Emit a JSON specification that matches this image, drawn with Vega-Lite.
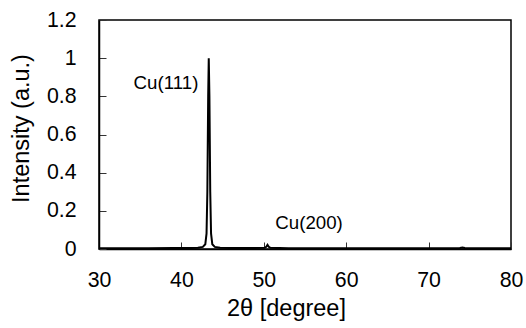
{
  "$schema": "https://vega.github.io/schema/vega-lite/v6.json",
  "width": 412,
  "height": 229,
  "autosize": {"type": "none"},
  "padding": {"left": 99, "top": 20, "right": 15, "bottom": 79},
  "background": "white",
  "config": {
    "font": "Liberation Sans",
    "view": {"stroke": "black", "strokeWidth": 1.5},
    "axis": {
      "grid": false,
      "domainColor": "black",
      "domainWidth": 1.5,
      "tickColor": "#333",
      "tickWidth": 1,
      "tickSize": -7,
      "labelFont": "Liberation Sans",
      "labelFontSize": 21.3,
      "labelColor": "black",
      "labelFlush": false,
      "labelOverlap": false,
      "titleFont": "Liberation Sans",
      "titleFontSize": 23.5,
      "titleFontWeight": "normal",
      "titleColor": "black"
    }
  },
  "encoding": {
    "x": {
      "field": "x", "type": "quantitative",
      "scale": {"domain": [30, 80], "nice": false, "zero": false},
      "axis": {"values": [30, 40, 50, 60, 70, 80], "title": "2θ [degree]", "labelPadding": 27, "labelFlush": false, "labelOverlap": false, "titlePadding": 6, "titleX": 187, "titleAnchor": "start", "titleAlign": "center"}
    },
    "y": {
      "field": "y", "type": "quantitative",
      "scale": {"domain": [0, 1.2], "nice": false},
      "axis": {"values": [0, 0.2, 0.4, 0.6, 0.8, 1, 1.2], "labelExpr": "format(datum.value, '~g')", "labelOverlap": false, "labelBound": false, "title": "Intensity (a.u.)", "labelPadding": 30, "titlePadding": 13, "titleY": 108, "titleAnchor": "start", "titleAlign": "center"}
    }
  },
  "layer": [
    {
      "data": {
        "values": [
          {"x": 30, "y": 0.004}, {"x": 33, "y": 0.004}, {"x": 36, "y": 0.004},
          {"x": 39, "y": 0.005}, {"x": 41, "y": 0.005}, {"x": 42, "y": 0.007},
          {"x": 42.6, "y": 0.011}, {"x": 42.9, "y": 0.025}, {"x": 43.05, "y": 0.08},
          {"x": 43.15, "y": 0.3}, {"x": 43.25, "y": 0.8}, {"x": 43.32, "y": 1.0},
          {"x": 43.4, "y": 0.8}, {"x": 43.5, "y": 0.3}, {"x": 43.6, "y": 0.08},
          {"x": 43.75, "y": 0.025}, {"x": 44.05, "y": 0.011}, {"x": 44.7, "y": 0.007},
          {"x": 46, "y": 0.005}, {"x": 48, "y": 0.005}, {"x": 50.1, "y": 0.006},
          {"x": 50.3, "y": 0.012}, {"x": 50.45, "y": 0.022}, {"x": 50.6, "y": 0.012},
          {"x": 50.8, "y": 0.006}, {"x": 53, "y": 0.004}, {"x": 56, "y": 0.004},
          {"x": 60, "y": 0.004}, {"x": 64, "y": 0.004}, {"x": 68, "y": 0.004},
          {"x": 70, "y": 0.004}, {"x": 73.8, "y": 0.005}, {"x": 74.1, "y": 0.008},
          {"x": 74.4, "y": 0.005}, {"x": 77, "y": 0.004}, {"x": 80, "y": 0.004}
        ]
      },
      "mark": {"type": "line", "color": "black", "strokeWidth": 2, "clip": true}
    },
    {
      "data": {
        "values": [
          {"x": 38.13, "y": 0.87, "label": "Cu(111)"},
          {"x": 55.49, "y": 0.136, "label": "Cu(200)"}
        ]
      },
      "mark": {"type": "text", "font": "Liberation Sans", "fontSize": 18.7, "color": "black", "align": "center", "baseline": "middle"},
      "encoding": {
        "text": {"field": "label"}
      }
    }
  ]
}
